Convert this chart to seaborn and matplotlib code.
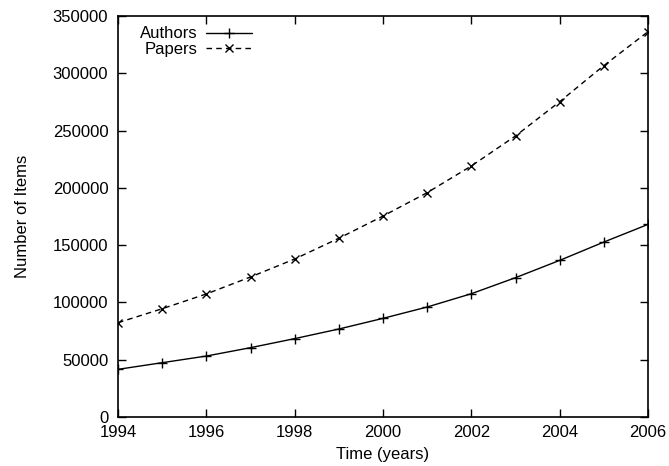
import matplotlib
matplotlib.use("Agg")
import matplotlib.pyplot as plt
import seaborn as sns
import pandas as pd
from matplotlib.ticker import MultipleLocator, FormatStrFormatter

years = [1994, 1995, 1996, 1997, 1998, 1999, 2000, 2001, 2002, 2003, 2004, 2005, 2006]
authors = [41600, 47400, 53200, 60500, 68400, 76800, 86100, 96000, 107600, 121600, 136700, 152700, 168100]
papers = [82300, 94500, 107400, 122200, 137900, 156000, 175400, 195800, 219100, 245300, 275200, 306700, 336300]
series_names = ["Authors", "Papers"]
x_ticks = [1994, 1996, 1998, 2000, 2002, 2004, 2006]
y_ticks = [0, 50000, 100000, 150000, 200000, 250000, 300000, 350000]

sns.set_style("ticks")
plt.rcParams["font.family"] = ["Liberation Sans", "DejaVu Sans"]
plt.rcParams["text.color"] = "black"
plt.rcParams["axes.labelcolor"] = "black"

fig = plt.figure(figsize=(6.69, 4.66), dpi=100)
ax = fig.add_axes([118 / 669, 1 - 417 / 466, 530 / 669, 401 / 466])

df_a = pd.DataFrame({"year": years, "value": authors})
df_p = pd.DataFrame({"year": years, "value": papers})

sns.lineplot(data=df_a, x="year", y="value", ax=ax, color="black", lw=1.0,
             marker="+", markersize=7.5, markeredgewidth=1.0, markeredgecolor="black",
             markerfacecolor="black", label=series_names[0])
sns.lineplot(data=df_p, x="year", y="value", ax=ax, color="black", lw=1.0,
             marker="x", markersize=6, markeredgewidth=1.0, markeredgecolor="black",
             markerfacecolor="black", label=series_names[1])
ax.lines[1].set_dashes([4, 3])

ax.set_xlim(1994, 2006)
ax.set_ylim(0, 350000)
ax.set_xticks(x_ticks)
ax.set_yticks(y_ticks)
ax.xaxis.set_minor_locator(MultipleLocator(1))
ax.yaxis.set_major_formatter(FormatStrFormatter("%d"))
ax.tick_params(axis="both", which="major", direction="in", length=6, width=1,
               top=True, right=True, labelsize=12, colors="black",
               labelcolor="black")
ax.tick_params(axis="x", which="minor", length=0)
ax.tick_params(axis="x", pad=6)
ax.tick_params(axis="y", pad=7)
for s in ax.spines.values():
    s.set_visible(True)
    s.set_linewidth(1.2)
    s.set_color("black")

ax.set_xlabel("Time (years)", fontsize=12, labelpad=5)
ax.set_ylabel("Number of Items", fontsize=12, labelpad=16)

leg = ax.legend(loc="upper left", bbox_to_anchor=(0.025, 0.995), frameon=False,
                markerfirst=False, handlelength=2.8, handletextpad=0.5,
                labelspacing=0.05, borderpad=0.0, fontsize=12)

fig.savefig("out.png", dpi=100)
